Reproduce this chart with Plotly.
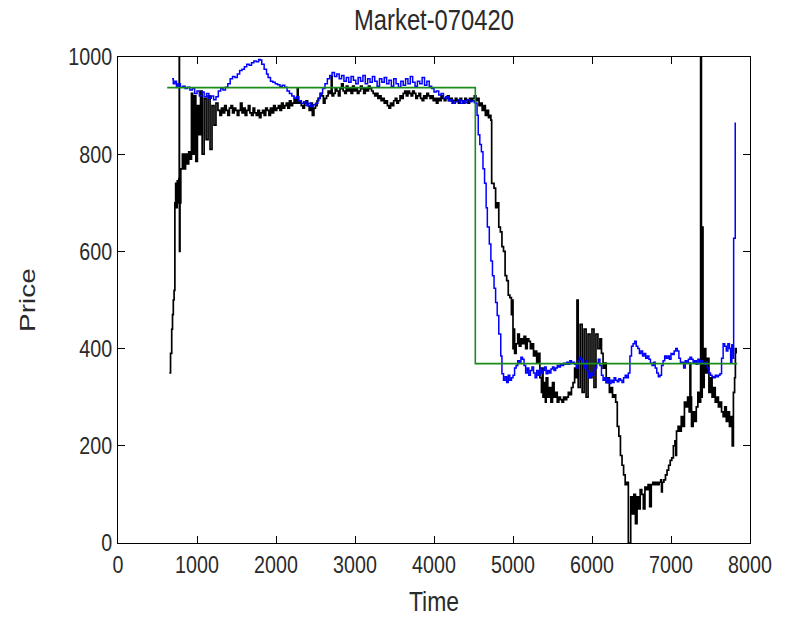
import plotly.graph_objects as go

# (time, price) samples for each series
trade_price = [
    (650, 350), (665, 390), (680, 440), (690, 470), (700, 500), (710, 520), (720, 700),
    (730, 740), (740, 690), (750, 745), (760, 700), (770, 750), (775, 1060), (778, 600),
    (785, 700), (795, 770), (815, 800), (835, 770), (855, 800), (875, 780), (895, 805),
    (915, 790), (930, 925), (945, 800), (965, 920), (985, 785), (1005, 900), (1025, 840),
    (1045, 930), (1065, 800), (1090, 915), (1115, 830), (1140, 920), (1165, 810), (1190, 900),
    (1215, 860), (1240, 905), (1265, 890), (1290, 880), (1310, 895),
    (1330, 885), (1350, 900), (1370, 890), (1390, 880), (1410, 895), (1430, 900), (1450, 885),
    (1470, 895), (1490, 890), (1510, 880), (1530, 890), (1550, 905), (1570, 885), (1590, 895),
    (1610, 880), (1630, 890), (1650, 900), (1670, 885), (1690, 880), (1710, 895), (1730, 885),
    (1750, 880), (1770, 890), (1790, 875), (1810, 885), (1830, 890), (1850, 880), (1870, 895),
    (1890, 890), (1910, 880), (1930, 895), (1950, 885), (1970, 900), (1990, 890), (2010, 895),
    (2030, 900), (2050, 890), (2070, 905), (2090, 895), (2110, 900), (2130, 905), (2150, 895),
    (2170, 910), (2190, 900), (2210, 905), (2230, 915), (2250, 905), (2270, 935), (2280, 905),
    (2300, 910), (2320, 900), (2340, 895), (2360, 905), (2380, 910), (2400, 900), (2420, 890),
    (2440, 905), (2460, 880), (2480, 895), (2500, 900), (2520, 910), (2540, 915), (2560, 925),
    (2580, 920), (2600, 905), (2620, 915), (2640, 920), (2660, 930), (2680, 925), (2700, 960),
    (2710, 920), (2730, 925), (2750, 935), (2770, 930), (2790, 920), (2810, 935), (2830, 945),
    (2850, 930), (2870, 925), (2890, 940), (2910, 930), (2930, 935), (2950, 925), (2970, 940),
    (2990, 930), (3010, 935), (3030, 925), (3050, 930), (3070, 940), (3090, 935), (3110, 925),
    (3130, 935), (3150, 930), (3170, 940), (3190, 935), (3210, 930), (3230, 925), (3250, 920),
    (3270, 925), (3290, 915), (3310, 920), (3330, 910), (3350, 915), (3370, 905), (3390, 910),
    (3410, 900), (3430, 895), (3450, 905), (3470, 900), (3490, 910), (3510, 915), (3530, 905),
    (3550, 910), (3570, 920), (3590, 915), (3610, 925), (3630, 930), (3650, 920), (3670, 930),
    (3690, 925), (3710, 920), (3730, 930), (3750, 925), (3770, 915), (3790, 920), (3810, 925),
    (3830, 915), (3850, 910), (3870, 920), (3890, 915), (3910, 925), (3930, 920), (3950, 915),
    (3970, 920), (3990, 910), (4010, 915), (4030, 905), (4050, 915), (4070, 910), (4090, 920),
    (4110, 915), (4130, 910), (4150, 915), (4170, 920), (4190, 910), (4210, 915), (4230, 905),
    (4250, 910), (4270, 915), (4290, 910), (4310, 905), (4330, 915), (4350, 910), (4370, 905),
    (4390, 915), (4410, 910), (4430, 905), (4450, 915), (4470, 910), (4490, 915), (4510, 920),
    (4530, 910), (4550, 915), (4570, 900), (4590, 905), (4610, 890), (4630, 900), (4650, 880),
    (4670, 890), (4690, 875), (4710, 880), (4720, 870), (4730, 740), (4760, 730), (4780, 690),
    (4800, 700), (4820, 650), (4840, 640), (4860, 610), (4880, 600), (4900, 550), (4920, 540),
    (4940, 510), (4960, 505), (4980, 470), (4990, 500), (5000, 400), (5010, 440), (5020, 390),
    (5040, 410), (5060, 430), (5080, 405), (5100, 420), (5120, 410), (5140, 425), (5160, 400),
    (5180, 420), (5200, 415), (5220, 400), (5240, 410), (5260, 385), (5280, 395), (5300, 370),
    (5320, 390), (5340, 340), (5360, 310), (5370, 360), (5380, 300), (5400, 330), (5410, 290),
    (5420, 340), (5440, 300), (5460, 320), (5480, 290), (5500, 330), (5520, 300), (5540, 310),
    (5560, 290), (5580, 300), (5600, 295), (5620, 290), (5640, 300), (5660, 295), (5680, 300),
    (5700, 310), (5720, 305), (5740, 320), (5760, 330), (5780, 360), (5800, 340), (5810, 500),
    (5825, 320), (5850, 450), (5875, 310), (5900, 440), (5925, 300), (5950, 430), (5975, 340),
    (6000, 440), (6025, 320), (6050, 430), (6075, 400), (6100, 420),
    (6120, 390), (6140, 360), (6160, 370), (6180, 330), (6200, 340), (6220, 310),
    (6240, 320), (6260, 300), (6280, 305), (6300, 290), (6320, 240), (6340, 220), (6360, 180),
    (6380, 160), (6400, 140), (6420, 120), (6440, 125), (6460, 0), (6480, 0), (6490, 95),
    (6510, 60), (6530, 100), (6550, 40), (6570, 95), (6590, 70), (6610, 110), (6630, 100),
    (6650, 70), (6670, 115), (6690, 110), (6710, 120), (6730, 75), (6750, 120), (6770, 125),
    (6790, 120), (6810, 125), (6830, 120), (6850, 125), (6870, 130), (6880, 105), (6890, 125),
    (6910, 130), (6930, 140), (6950, 150), (6970, 160), (6990, 170), (7010, 175), (7030, 200),
    (7050, 210), (7060, 180), (7070, 230), (7090, 240), (7110, 230), (7130, 260), (7150, 240),
    (7170, 290), (7190, 280), (7210, 300), (7230, 270), (7240, 370), (7250, 300), (7260, 240),
    (7280, 270), (7300, 250), (7320, 280), (7340, 310), (7360, 290), (7375, 1060), (7385, 300),
    (7395, 650), (7405, 320), (7420, 400), (7440, 350), (7460, 380), (7480, 310), (7500, 340),
    (7520, 300), (7540, 320), (7560, 290), (7580, 300), (7600, 280), (7620, 290), (7640, 270),
    (7660, 260), (7680, 280), (7700, 250), (7720, 270), (7740, 240), (7760, 260), (7775, 200),
    (7790, 310), (7805, 340), (7815, 400), (7825, 390),
]

model_price = [
    (685, 955), (700, 945), (720, 950), (740, 940), (760, 945), (790, 938), (820, 940),
    (850, 935), (880, 938), (910, 932), (940, 935), (970, 925), (1000, 930), (1030, 920),
    (1060, 928), (1090, 918), (1120, 925), (1150, 915), (1180, 920), (1210, 912), (1240, 918),
    (1270, 930), (1300, 935), (1330, 932), (1360, 938), (1390, 945), (1420, 955), (1450, 960),
    (1480, 958), (1510, 965), (1540, 972), (1570, 975), (1600, 980), (1630, 985), (1660, 983),
    (1690, 988), (1720, 992), (1750, 990), (1780, 995), (1800, 994), (1820, 985), (1850, 975),
    (1880, 965), (1900, 958), (1930, 950), (1960, 948), (1990, 945), (2020, 943), (2050, 940),
    (2080, 942), (2110, 938), (2140, 930), (2170, 925), (2200, 920), (2230, 915), (2260, 918),
    (2290, 910), (2320, 905), (2350, 908), (2380, 900), (2410, 905), (2440, 898), (2470, 902),
    (2500, 905), (2530, 915), (2560, 925), (2590, 935), (2620, 945), (2650, 955), (2680, 962),
    (2710, 968), (2740, 960), (2770, 965), (2800, 955), (2830, 962), (2860, 950), (2890, 958),
    (2920, 948), (2950, 960), (2980, 952), (3010, 945), (3040, 958), (3070, 950), (3100, 962),
    (3130, 945), (3160, 955), (3190, 948), (3220, 960), (3250, 950), (3280, 940), (3310, 955),
    (3340, 948), (3370, 958), (3400, 945), (3430, 952), (3460, 940), (3490, 955), (3520, 945),
    (3550, 938), (3580, 950), (3610, 942), (3640, 955), (3670, 945), (3700, 960), (3730, 948),
    (3760, 940), (3790, 950), (3820, 945), (3850, 958), (3880, 942), (3910, 950), (3940, 940),
    (3970, 935), (4000, 928), (4030, 930), (4060, 922), (4090, 925), (4120, 915), (4150, 918),
    (4180, 910), (4210, 912), (4240, 905), (4270, 908), (4300, 912), (4330, 905), (4360, 910),
    (4390, 906), (4420, 912), (4450, 908), (4480, 910), (4510, 906), (4530, 905), (4545, 880),
    (4560, 840), (4580, 820), (4600, 805), (4620, 770), (4640, 740), (4660, 690), (4675, 650),
    (4700, 615), (4720, 580), (4740, 550), (4760, 524), (4780, 495), (4800, 468), (4820, 430),
    (4845, 385), (4860, 348), (4880, 335), (4900, 342), (4920, 330), (4940, 345), (4960, 335),
    (4980, 340), (5000, 345), (5020, 360), (5040, 365), (5060, 375), (5080, 370), (5100, 382),
    (5120, 378), (5140, 365), (5160, 350), (5180, 360), (5200, 345), (5220, 355), (5240, 362),
    (5260, 350), (5280, 340), (5300, 355), (5320, 345), (5340, 360), (5360, 350), (5380, 355),
    (5400, 362), (5420, 348), (5440, 355), (5460, 350), (5480, 358), (5500, 362), (5520, 355),
    (5540, 360), (5560, 365), (5580, 362), (5600, 368), (5620, 365), (5640, 370), (5660, 368),
    (5680, 372), (5700, 368), (5720, 375), (5740, 370), (5760, 372), (5780, 368), (5800, 360),
    (5820, 375), (5840, 382), (5860, 378), (5880, 370), (5900, 360), (5920, 375), (5940, 355),
    (5960, 340), (5980, 350), (6000, 345), (6020, 355), (6040, 360), (6060, 370), (6080, 378),
    (6100, 365), (6120, 345), (6140, 335), (6160, 340), (6180, 330), (6200, 338), (6220, 328),
    (6240, 335), (6260, 330), (6280, 340), (6300, 335), (6320, 332), (6340, 338), (6360, 335),
    (6380, 330), (6400, 340), (6420, 345), (6440, 340), (6460, 350), (6480, 385), (6500, 405),
    (6520, 410), (6540, 415), (6560, 405), (6580, 400), (6600, 390), (6620, 395), (6640, 385),
    (6660, 390), (6680, 380), (6700, 385), (6720, 378), (6740, 370), (6760, 365), (6780, 372),
    (6800, 360), (6820, 350), (6840, 342), (6860, 345), (6880, 365), (6900, 375), (6920, 385),
    (6940, 380), (6960, 385), (6980, 378), (7000, 390), (7020, 388), (7040, 395), (7060, 400),
    (7080, 395), (7100, 380), (7120, 370), (7140, 372), (7160, 360), (7180, 375), (7200, 370),
    (7220, 378), (7240, 382), (7260, 378), (7280, 372), (7300, 375), (7320, 368), (7340, 378),
    (7360, 372), (7380, 375), (7400, 370), (7420, 368), (7440, 372), (7460, 360), (7480, 350),
    (7500, 345), (7520, 342), (7540, 340), (7560, 345), (7580, 342), (7600, 345), (7620, 348),
    (7640, 380), (7660, 410), (7680, 405), (7700, 395), (7720, 410), (7740, 400), (7755, 370),
    (7770, 408), (7785, 395), (7790, 380), (7793, 627), (7810, 627), (7813, 865),
]

equilibrium_price = [(623, 937), (4523, 937), (4523, 369), (7838, 369)]

x_ticks = [0, 1000, 2000, 3000, 4000, 5000, 6000, 7000, 8000]
y_ticks = [0, 200, 400, 600, 800, 1000]

FONT = "Liberation Sans, Arial, sans-serif"
TEXT = "#2a2a2a"


def split(pairs):
    return [p[0] for p in pairs], [p[1] for p in pairs]


fig = go.Figure()
for series, color, width in [
    (trade_price, "#000000", 1.7),
    (model_price, "#0000ff", 1.5),
    (equilibrium_price, "#1a8c1a", 1.6),
]:
    xs, ys = split(series)
    fig.add_trace(go.Scatter(x=xs, y=ys, mode="lines", line=dict(color=color, width=width, shape="hv"),
                             showlegend=False, hoverinfo="skip"))

axis_common = dict(
    showline=True, linecolor="black", linewidth=1.2, mirror="ticks",
    ticks="inside", ticklen=7, tickwidth=1, tickcolor="black",
    showgrid=False, zeroline=False,
    tickfont=dict(family=FONT, size=24, color=TEXT),
)

fig.update_layout(
    width=789, height=624,
    margin=dict(l=118, r=29, t=57, b=77),
    paper_bgcolor="white", plot_bgcolor="white",
    title=dict(text="Market-070420", x=0.5, xref="paper", y=0.968, yanchor="middle",
               font=dict(family=FONT, size=29, color=TEXT)),
    xaxis=dict(range=[0, 8000], tickvals=x_ticks, ticktext=[str(v) for v in x_ticks],
               title=dict(text="Time", standoff=14, font=dict(family=FONT, size=28, color=TEXT)),
               **axis_common),
    yaxis=dict(range=[0, 1000], tickvals=y_ticks, ticktext=[str(v) for v in y_ticks],
               title=dict(text="Price", standoff=14, font=dict(family=FONT, size=28, color=TEXT)),
               **axis_common),
)

# Condensed lettering: squeeze glyphs across the reading direction's width
# (horizontal labels narrower, the rotated y title thinner).
condense_js = """
var gd = document.getElementById('{plot_id}');
function squeeze(sel, sx, sy) {
  gd.querySelectorAll(sel).forEach(function (t) {
    var x = parseFloat(t.getAttribute('x')) || 0;
    var y = parseFloat(t.getAttribute('y')) || 0;
    var tr = t.getAttribute('transform') || '';
    t.setAttribute('transform', tr + ' translate(' + x + ',' + y + ') scale(' + sx + ',' + sy + ') translate(' + (-x) + ',' + (-y) + ')');
  });
}
squeeze('.xtick text, .ytick text, .gtitle, .xtitle', 0.82, 1);
squeeze('.ytitle', 1, 0.82);
"""

fig.write_html("out.html", post_script=condense_js)
